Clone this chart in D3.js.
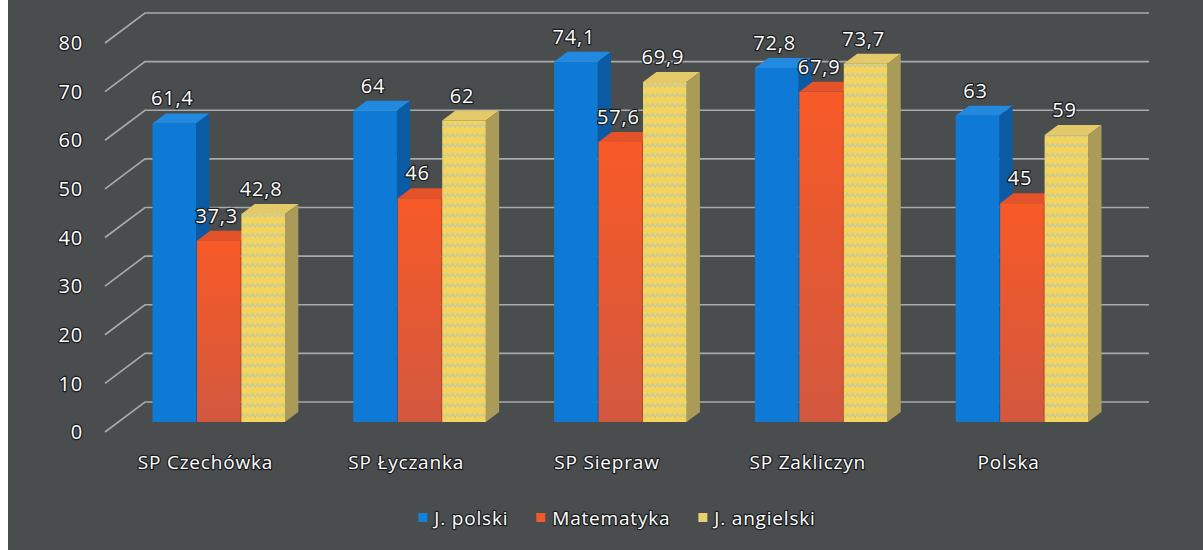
<!DOCTYPE html>
<html>
<head>
<meta charset="utf-8">
<title>Wyniki egzaminu</title>
<style>
  body { margin: 0; background: #ffffff; }
  svg { display: block; }
  .lbl {
    font-family: "Open Sans", sans-serif;
    fill: #ffffff;
    stroke: #1b1d1e;
    stroke-width: 2.6px;
    stroke-linejoin: round;
    paint-order: stroke;
    letter-spacing: 0.8px;
  }
</style>
<script src="https://d3js.org/d3.v7.min.js"></script>
</head>
<body>
<div id="chart"></div>

<script>
// values
var categories = ["SP Czechówka", "SP Łyczanka", "SP Siepraw", "SP Zakliczyn", "Polska"];
var seriesNames = ["J. polski", "Matematyka", "J. angielski"];
var polski = [61.4, 64, 74.1, 72.8, 63];
var matematyka = [37.3, 46, 57.6, 67.9, 45];
var angielski = [42.8, 62, 69.9, 73.7, 59];
var yTicks = [0, 10, 20, 30, 40, 50, 60, 70, 80];

var width = 1203, height = 550;

// depth of the 3d box (back wall offset) and where the bars sit in it
var DX = 40, DY = -30;
var d0 = 1 / 3, d1 = 2 / 3;

var svg = d3.select("#chart").append("svg")
  .attr("width", width)
  .attr("height", height);

var defs = svg.append("defs");

// orange bars fade a bit towards the floor
var grad = defs.append("linearGradient")
  .attr("id", "redGrad")
  .attr("x1", 0).attr("y1", 0).attr("x2", 0).attr("y2", 1);
grad.append("stop").attr("offset", "0%").attr("stop-color", "#f75a27");
grad.append("stop").attr("offset", "100%").attr("stop-color", "#d2583f");

// zigzag texture for the yellow bars
var pat = defs.append("pattern")
  .attr("id", "zigzag")
  .attr("patternUnits", "userSpaceOnUse")
  .attr("width", 10).attr("height", 10);
pat.append("rect").attr("width", 10).attr("height", 10).attr("fill", "#f5d45e");
pat.append("path")
  .attr("d", "M0,7 L2.5,4 L5,7 L7.5,4 L10,7")
  .attr("fill", "none")
  .attr("stroke", "#cbcc92")
  .attr("stroke-width", 1.8);

var styles = [
  { front: "#0f79d6", side: "#0b5ba4", top: "#2189e0" },
  { front: "url(#redGrad)", side: "#bf4722", top: "#e4522a" },
  { front: "url(#zigzag)", side: "#ab9b58", top: "#e4c96a" }
];

// background + scanned white margin on the left
svg.append("rect").attr("width", width).attr("height", height).attr("fill", "#494d4e");
svg.append("rect").attr("width", 8).attr("height", height).attr("fill", "#ffffff");

var x0 = d3.scaleBand()
  .domain(categories)
  .range([105, 1109])
  .paddingInner(0.34)
  .paddingOuter(0.17);

var x1 = d3.scaleBand()
  .domain(seriesNames)
  .range([0, x0.bandwidth()])
  .paddingInner(0.02);

var y = d3.scaleLinear()
  .domain([0, 80])
  .range([432, 43]);

// gridlines: short diagonal on the side wall, then along the back wall
svg.append("g").selectAll("path")
  .data(yTicks)
  .enter().append("path")
  .attr("d", function(t) {
    return "M105," + y(t) + "L" + (105 + DX) + "," + (y(t) + DY) + "H" + (x0.range()[1] + DX);
  })
  .attr("fill", "none")
  .attr("stroke", "#a8abab")
  .attr("stroke-width", 1.6);

// tick labels
svg.append("g").selectAll("text")
  .data(yTicks)
  .enter().append("text")
  .attr("class", "lbl")
  .attr("x", 83)
  .attr("y", function(t) { return y(t); })
  .attr("dy", "0.36em")
  .attr("text-anchor", "end")
  .style("font-size", "20px")
  .text(function(t) { return t; });

// flatten to one record per bar
var allSeries = [polski, matematyka, angielski];
var bars = [];
categories.forEach(function(c, i) {
  seriesNames.forEach(function(s, j) {
    bars.push({ cat: c, name: s, idx: j, value: allSeries[j][i] });
  });
});

function P(x, v, d) {
  return [x + d * DX, y(v) + d * DY];
}

var barG = svg.append("g").selectAll("g")
  .data(bars)
  .enter().append("g");

// top face
barG.append("polygon")
  .attr("points", function(b) {
    var xl = x0(b.cat) + x1(b.name), xr = xl + x1.bandwidth();
    return [P(xl, b.value, d0), P(xr, b.value, d0), P(xr, b.value, d1), P(xl, b.value, d1)].join(" ");
  })
  .attr("fill", function(b) { return styles[b.idx].top; });

// right side face
barG.append("polygon")
  .attr("points", function(b) {
    var xr = x0(b.cat) + x1(b.name) + x1.bandwidth();
    return [P(xr, b.value, d0), P(xr, b.value, d1), P(xr, 0, d1), P(xr, 0, d0)].join(" ");
  })
  .attr("fill", function(b) { return styles[b.idx].side; });

// front face
barG.append("rect")
  .attr("x", function(b) { return P(x0(b.cat) + x1(b.name), 0, d0)[0]; })
  .attr("y", function(b) { return P(0, b.value, d0)[1]; })
  .attr("width", x1.bandwidth())
  .attr("height", function(b) { return y(0) - y(b.value); })
  .attr("fill", function(b) { return styles[b.idx].front; });

// value labels
var fmt = d3.formatLocale({ decimal: ",", thousands: " ", grouping: [3], currency: ["", " zł"] }).format("~g");

svg.append("g").selectAll("text")
  .data(bars)
  .enter().append("text")
  .attr("class", "lbl")
  .attr("x", function(b) { return P(x0(b.cat) + x1(b.name) + x1.bandwidth() / 2, 0, d0)[0] - 2; })
  .attr("y", function(b) { return P(0, b.value, d0)[1] - 18; })
  .attr("text-anchor", "middle")
  .style("font-size", "20px")
  .text(function(b) { return fmt(b.value); });

// category labels on the front edge
svg.append("g").selectAll("text")
  .data(categories)
  .enter().append("text")
  .attr("class", "lbl")
  .attr("x", function(c) { return x0(c) + x0.bandwidth() / 2; })
  .attr("y", 469)
  .attr("text-anchor", "middle")
  .style("font-size", "19px")
  .text(function(c) { return c; });

// legend, centred under the plot
var legend = svg.append("g");
var legendColors = ["#1580d8", "#ee5a2c", "#e8d070"];
var lx = 0;
seriesNames.forEach(function(s, j) {
  var item = legend.append("g").attr("transform", "translate(" + lx + ",0)");
  item.append("rect")
    .attr("x", 0).attr("y", -12)
    .attr("width", 9).attr("height", 9)
    .attr("fill", legendColors[j]);
  var t = item.append("text")
    .attr("class", "lbl")
    .attr("x", 16)
    .attr("y", 0)
    .style("font-size", "19px")
    .text(s);
  lx += 16 + t.node().getComputedTextLength() + 28;
});
lx -= 28;
legend.attr("transform", "translate(" + (617 - lx / 2) + ",525)");

</script>
</body>
</html>
